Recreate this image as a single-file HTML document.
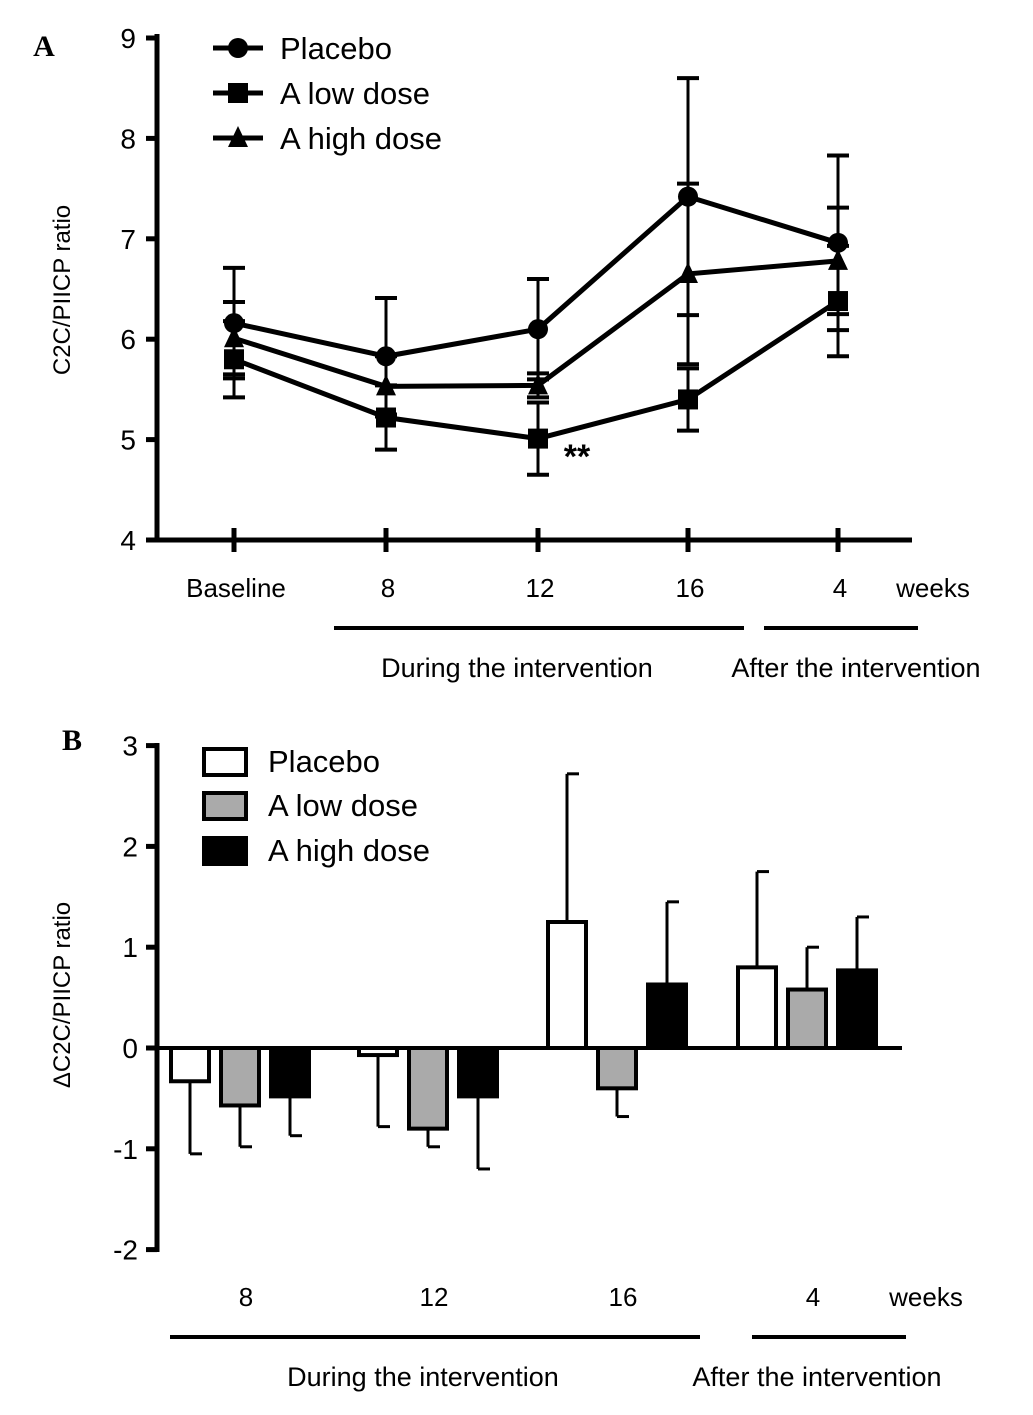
<!DOCTYPE html>
<html><head><meta charset="utf-8"><style>
body{margin:0;background:#fff;}
svg{display:block;font-family:"Liberation Sans",Arial,sans-serif;}
</style></head><body>
<svg id="c" width="1033" height="1415" viewBox="0 0 1033 1415"></svg>
<script>
// Panel A data
const catsA = ["Baseline","8","12","16","4"];
const placeboA = [6.16, 5.83, 6.1, 7.42, 6.96];
const placeboErrA = [0.55, 0.58, 0.5, 1.18, 0.87];
const lowA = [5.8, 5.22, 5.01, 5.4, 6.38];
const lowErrA = [0.38, 0.32, 0.36, 0.31, 0.55];
const highA = [6.01, 5.53, 5.54, 6.65, 6.78];
const highErrA = [0.36, 0.3, 0.12, 0.9, 0.53];
const yTicksA = [4,5,6,7,8,9];
// Panel B data
const catsB = ["8","12","16","4"];
const placeboB = [-0.33, -0.07, 1.25, 0.8];
const placeboErrB = [0.72, 0.71, 1.47, 0.95];
const lowB = [-0.57, -0.8, -0.4, 0.58];
const lowErrB = [0.41, 0.18, 0.28, 0.42];
const highB = [-0.48, -0.48, 0.63, 0.77];
const highErrB = [0.39, 0.72, 0.82, 0.53];
const yTicksB = [-2,-1,0,1,2,3];

const svg = document.getElementById('c');
const NS = 'http://www.w3.org/2000/svg';
function mk(tag, attrs, parent){const e=document.createElementNS(NS,tag);for(const k in attrs)e.setAttribute(k,attrs[k]);(parent||svg).appendChild(e);return e;}
function txt(s,x,y,size,anchor,extra,parent){const t=mk('text',Object.assign({x:x,y:y,'font-size':size,'text-anchor':anchor||'middle',fill:'#000'},extra||{}),parent);t.textContent=s;return t;}

// ---------- Panel A ----------
const yA = v => 540 - (v-4)*100.4;
const xA = i => [234,386,538,688,838][i];
const gA = mk('g',{});


const lA = txt('A',44,56,30,'middle',{'font-family':'Liberation Serif, serif','font-weight':'bold'});

mk('line',{x1:157,y1:34,x2:157,y2:542,stroke:'#000','stroke-width':5},gA);
mk('line',{x1:155,y1:540,x2:912,y2:540,stroke:'#000','stroke-width':5},gA);
yTicksA.forEach(v=>{
  mk('line',{x1:146,y1:yA(v),x2:157,y2:yA(v),stroke:'#000','stroke-width':5},gA);
  const t=txt(String(v),136,yA(v)+10,28,'end');
  
});
catsA.forEach((c,i)=>{
  mk('line',{x1:xA(i),y1:528,x2:xA(i),y2:552,stroke:'#000','stroke-width':5},gA);
  const t=txt(c,xA(i)+2,597,26,'middle');
  
});
txt('weeks',933,597,26,'middle');
const ya=txt('C2C/PIICP ratio',0,0,24,'middle',{transform:'translate(70,290) rotate(-90)'});

mk('line',{x1:334,y1:628,x2:744,y2:628,stroke:'#000','stroke-width':4});
mk('line',{x1:764,y1:628,x2:918,y2:628,stroke:'#000','stroke-width':4});
txt('During the intervention',517,677,27);
txt('After the intervention',856,677,27);

function errA(vals,errs,sign,name){
  vals.forEach((v,i)=>{
    const x=xA(i),y1=yA(v),y2=yA(v+sign*errs[i]);
    const g=mk('g',{},gA);
    
    mk('line',{x1:x,y1:y1,x2:x,y2:y2,stroke:'#000','stroke-width':3},g);
    mk('line',{x1:x-11,y1:y2,x2:x+11,y2:y2,stroke:'#000','stroke-width':4},g);
  });
}
errA(placeboA,placeboErrA,1,'placebo');errA(placeboA,placeboErrA,-1,'placebo');
errA(lowA,lowErrA,1,'low-dose');errA(lowA,lowErrA,-1,'low-dose');
errA(highA,highErrA,1,'high-dose');errA(highA,highErrA,-1,'high-dose');
function lineA(vals,name){
  const p=mk('polyline',{points:vals.map((v,i)=>xA(i)+','+yA(v)).join(' '),fill:'none',stroke:'#000','stroke-width':5},gA);
  
}
lineA(placeboA,'placebo');lineA(lowA,'low-dose');lineA(highA,'high-dose');
function marker(type,x,y,parent){
  if(type==='c')return mk('circle',{cx:x,cy:y,r:10,fill:'#000'},parent);
  if(type==='s')return mk('rect',{x:x-10,y:y-10,width:20,height:20,fill:'#000'},parent);
  return mk('polygon',{points:`${x},${y-12} ${x-10},${y+9} ${x+10},${y+9}`,fill:'#000'},parent);
}
placeboA.forEach((v,i)=>{const m=marker('c',xA(i),yA(v),gA);});
lowA.forEach((v,i)=>{const m=marker('s',xA(i),yA(v),gA);});
highA.forEach((v,i)=>{const m=marker('t',xA(i),yA(v),gA);});
txt('**',577,468,34,'middle',{'font-weight':'bold'});
// legend A
[['Placebo','c',48],['A low dose','s',93],['A high dose','t',138]].forEach(([n,t,y])=>{
  const g=mk('g',{});
  
  mk('line',{x1:213,y1:y,x2:263,y2:y,stroke:'#000','stroke-width':5},g);
  marker(t,238,y,g);
  txt(n,280,y+11,31,'start',{},g);
});

// ---------- Panel B ----------
const yB = v => 1048 - v*100.8;
const groupX = [240,428,617,807];
const xB = (i,s) => groupX[i] + (s-1)*50;
const lB = txt('B',72,750,30,'middle',{'font-family':'Liberation Serif, serif','font-weight':'bold'});

mk('line',{x1:157,y1:743,x2:157,y2:1252,stroke:'#000','stroke-width':5});
yTicksB.forEach(v=>{
  mk('line',{x1:146,y1:yB(v),x2:157,y2:yB(v),stroke:'#000','stroke-width':5});
  const t=txt(String(v),138,yB(v)+10,28,'end');
  
});
const yb=txt('\u0394C2C/PIICP ratio',0,0,24,'middle',{transform:'translate(70,995) rotate(-90)'});

catsB.forEach((c,i)=>{const t=txt(c,groupX[i]+6,1306,26);});
txt('weeks',926,1306,26);
mk('line',{x1:170,y1:1337,x2:700,y2:1337,stroke:'#000','stroke-width':4});
mk('line',{x1:752,y1:1337,x2:906,y2:1337,stroke:'#000','stroke-width':4});
txt('During the intervention',423,1386,27);
txt('After the intervention',817,1386,27);
const fills=['#fff','#aaa','#000'];
const names=['placebo','low-dose','high-dose'];
[[placeboB,placeboErrB],[lowB,lowErrB],[highB,highErrB]].forEach(([vals,errs],s)=>{
  vals.forEach((v,i)=>{
    const x=xB(i,s),y0=yB(0),y1=yB(v),sg=v>=0?1:-1,ye=yB(v+sg*errs[i]);
    const e=mk('g',{});
    
    mk('line',{x1:x,y1:y1,x2:x,y2:ye,stroke:'#000','stroke-width':3},e);
    mk('line',{x1:x,y1:ye,x2:x+12,y2:ye,stroke:'#000','stroke-width':3},e);
    const r=mk('rect',{x:x-19,y:Math.min(y0,y1),width:38,height:Math.abs(y1-y0),fill:fills[s],stroke:'#000','stroke-width':4});
    
  });
});
mk('line',{x1:155,y1:1048,x2:902,y2:1048,stroke:'#000','stroke-width':4});
[['Placebo',0,761],['A low dose',1,805],['A high dose',2,850]].forEach(([n,s,y])=>{
  const g=mk('g',{});
  
  mk('rect',{x:204,y:y-12,width:42,height:26,fill:fills[s],stroke:'#000','stroke-width':4},g);
  txt(n,268,y+11,31,'start',{},g);
});
</script>
</body></html>
